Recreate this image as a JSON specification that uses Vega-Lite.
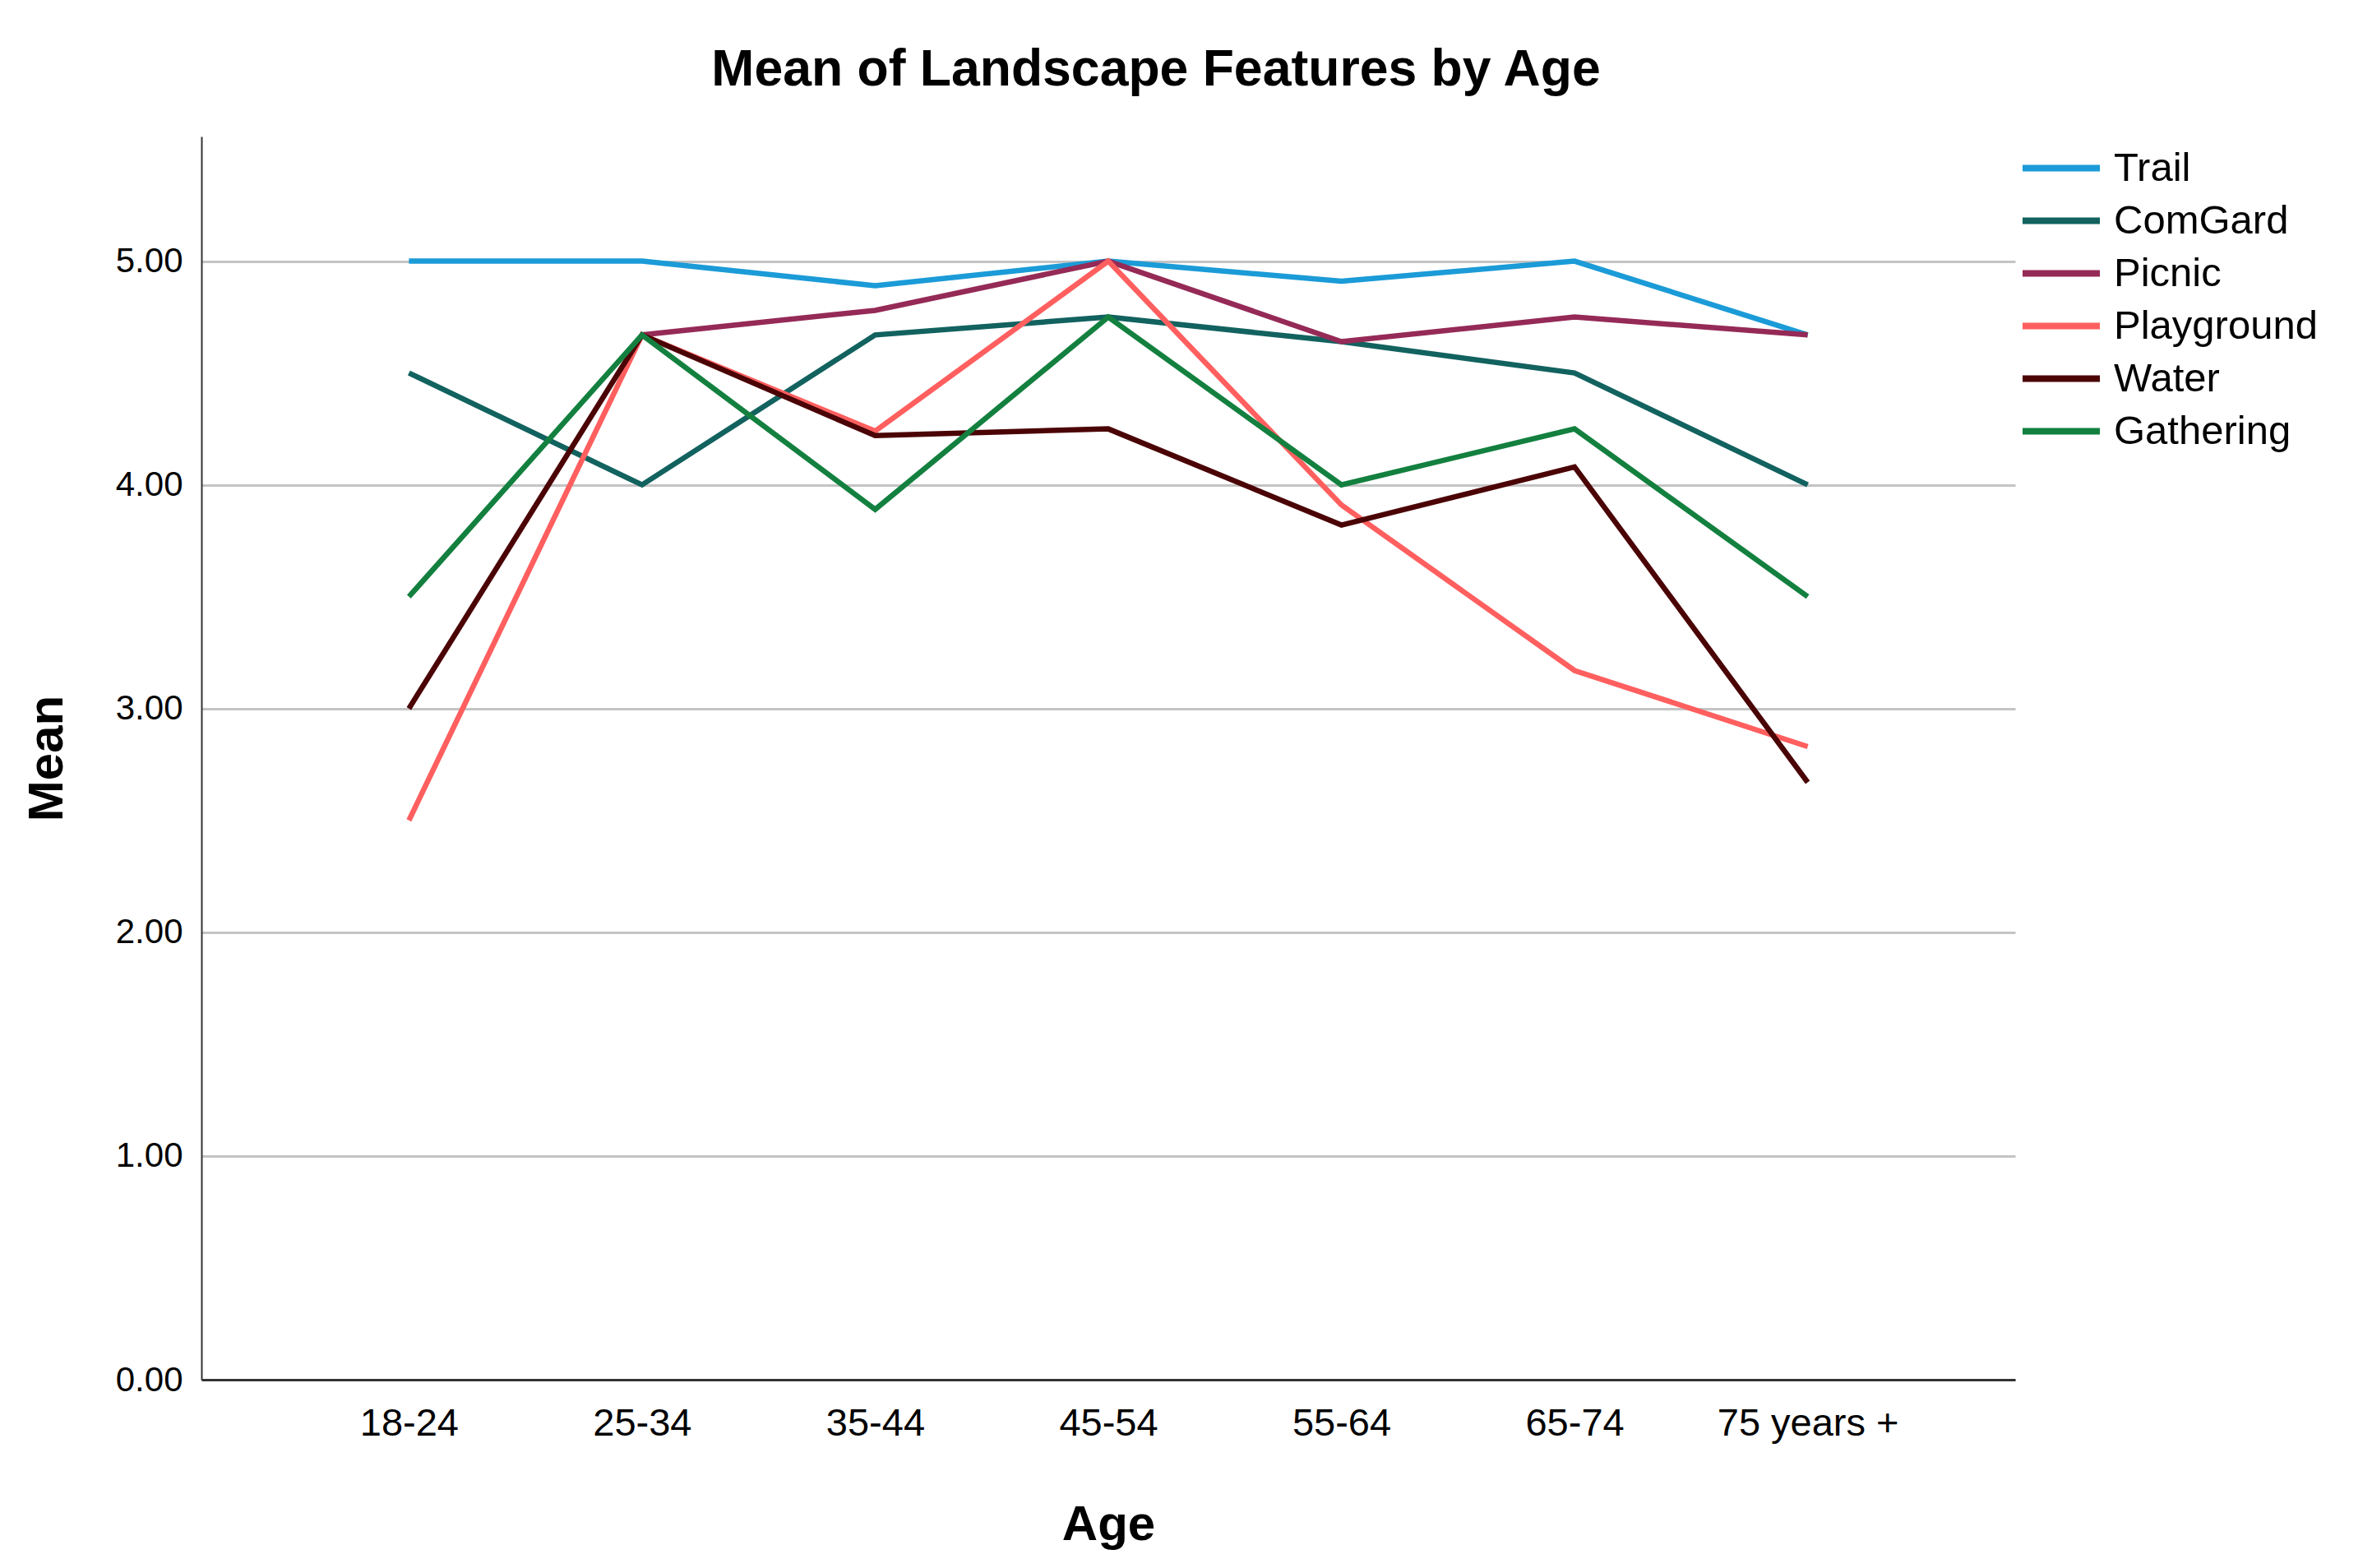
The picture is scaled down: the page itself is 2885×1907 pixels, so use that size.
{
  "$schema": "https://vega.github.io/schema/vega-lite/v6.json",
  "width": 2206,
  "height": 1512,
  "autosize": {"type": "none"},
  "padding": {"left": 245, "top": 166, "right": 434, "bottom": 229},
  "background": "white",
  "title": {
    "text": "Mean of Landscape Features by Age",
    "font": "Liberation Sans",
    "fontSize": 62.5,
    "fontWeight": "bold",
    "color": "black",
    "anchor": "middle",
    "dx": 58,
    "offset": 0,
    "baseline": "alphabetic"
  },
  "data": {
    "values": [
      {"age": "18-24", "feature": "Trail", "mean": 5.0},
      {"age": "25-34", "feature": "Trail", "mean": 5.0},
      {"age": "35-44", "feature": "Trail", "mean": 4.89},
      {"age": "45-54", "feature": "Trail", "mean": 5.0},
      {"age": "55-64", "feature": "Trail", "mean": 4.91},
      {"age": "65-74", "feature": "Trail", "mean": 5.0},
      {"age": "75 years +", "feature": "Trail", "mean": 4.67},

      {"age": "18-24", "feature": "ComGard", "mean": 4.5},
      {"age": "25-34", "feature": "ComGard", "mean": 4.0},
      {"age": "35-44", "feature": "ComGard", "mean": 4.67},
      {"age": "45-54", "feature": "ComGard", "mean": 4.75},
      {"age": "55-64", "feature": "ComGard", "mean": 4.64},
      {"age": "65-74", "feature": "ComGard", "mean": 4.5},
      {"age": "75 years +", "feature": "ComGard", "mean": 4.0},

      {"age": "25-34", "feature": "Picnic", "mean": 4.67},
      {"age": "35-44", "feature": "Picnic", "mean": 4.78},
      {"age": "45-54", "feature": "Picnic", "mean": 5.0},
      {"age": "55-64", "feature": "Picnic", "mean": 4.64},
      {"age": "65-74", "feature": "Picnic", "mean": 4.75},
      {"age": "75 years +", "feature": "Picnic", "mean": 4.67},

      {"age": "18-24", "feature": "Playground", "mean": 2.5},
      {"age": "25-34", "feature": "Playground", "mean": 4.67},
      {"age": "35-44", "feature": "Playground", "mean": 4.24},
      {"age": "45-54", "feature": "Playground", "mean": 5.0},
      {"age": "55-64", "feature": "Playground", "mean": 3.91},
      {"age": "65-74", "feature": "Playground", "mean": 3.17},
      {"age": "75 years +", "feature": "Playground", "mean": 2.83},

      {"age": "18-24", "feature": "Water", "mean": 3.0},
      {"age": "25-34", "feature": "Water", "mean": 4.67},
      {"age": "35-44", "feature": "Water", "mean": 4.22},
      {"age": "45-54", "feature": "Water", "mean": 4.25},
      {"age": "55-64", "feature": "Water", "mean": 3.82},
      {"age": "65-74", "feature": "Water", "mean": 4.08},
      {"age": "75 years +", "feature": "Water", "mean": 2.67},

      {"age": "18-24", "feature": "Gathering", "mean": 3.5},
      {"age": "25-34", "feature": "Gathering", "mean": 4.67},
      {"age": "35-44", "feature": "Gathering", "mean": 3.89},
      {"age": "45-54", "feature": "Gathering", "mean": 4.75},
      {"age": "55-64", "feature": "Gathering", "mean": 4.0},
      {"age": "65-74", "feature": "Gathering", "mean": 4.25},
      {"age": "75 years +", "feature": "Gathering", "mean": 3.5}
    ]
  },
  "mark": {"type": "line", "strokeWidth": 6.5, "strokeJoin": "miter"},
  "encoding": {
    "x": {
      "field": "age",
      "type": "ordinal",
      "sort": ["18-24", "25-34", "35-44", "45-54", "55-64", "65-74", "75 years +"],
      "scale": {"type": "point", "padding": 0.89},
      "axis": {
        "title": "Age",
        "titleFont": "Liberation Sans",
        "titleFontSize": 60,
        "titleFontWeight": "bold",
        "titleColor": "black",
        "titleBaseline": "alphabetic",
        "titleY": 194,
        "labelFont": "Liberation Sans",
        "labelFontSize": 47,
        "labelColor": "black",
        "labelAngle": 0,
        "labelPadding": 30,
        "labelLimit": 0,
        "labelOverlap": false,
        "ticks": false,
        "grid": false,
        "domainColor": "#333333",
        "domainWidth": 3
      }
    },
    "y": {
      "field": "mean",
      "type": "quantitative",
      "scale": {"domain": [0, 5.557], "nice": false, "zero": true},
      "axis": {
        "title": "Mean",
        "titleFont": "Liberation Sans",
        "titleFontSize": 60,
        "titleFontWeight": "bold",
        "titleColor": "black",
        "titleBaseline": "alphabetic",
        "titleX": -170,
        "titleY": 756,
        "values": [0, 1, 2, 3, 4, 5],
        "format": ".2f",
        "labelFont": "Liberation Sans",
        "labelFontSize": 42,
        "labelColor": "black",
        "labelPadding": 23,
        "ticks": false,
        "grid": true,
        "gridColor": "#c4c4c4",
        "gridWidth": 3,
        "domainColor": "#333333",
        "domainWidth": 2
      }
    },
    "color": {
      "field": "feature",
      "type": "nominal",
      "scale": {
        "domain": ["Trail", "ComGard", "Picnic", "Playground", "Water", "Gathering"],
        "range": ["#1b9bd7", "#12625f", "#952a57", "#ff5f5f", "#4b0406", "#13803f"]
      },
      "legend": {
        "title": null,
        "orient": "none",
        "legendX": 2211,
        "legendY": 6.5,
        "padding": 0,
        "symbolType": "stroke",
        "symbolSize": 8836,
        "symbolStrokeWidth": 8,
        "clipHeight": 64,
        "rowPadding": 0,
        "labelFont": "Liberation Sans",
        "labelFontSize": 49,
        "labelColor": "black",
        "labelOffset": 13,
        "labelLimit": 0
      }
    }
  },
  "config": {"view": {"stroke": null}}
}
